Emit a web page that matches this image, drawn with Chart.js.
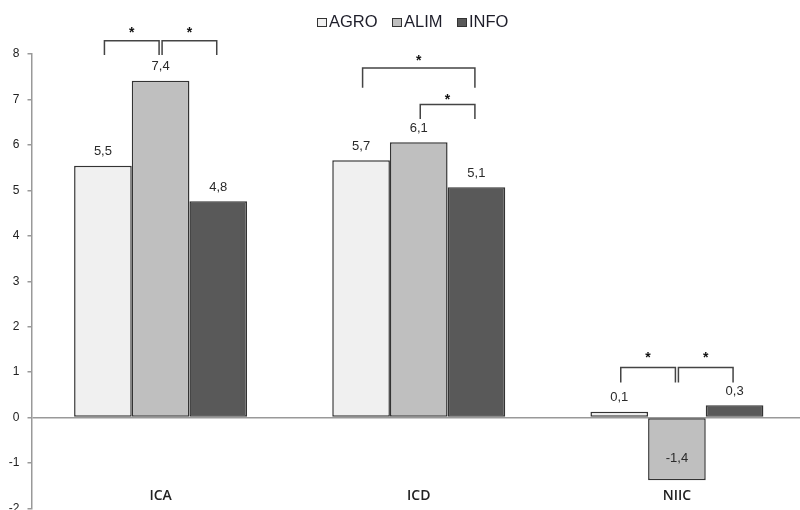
<!DOCTYPE html>
<html><head><meta charset="utf-8">
<script src="https://cdn.jsdelivr.net/npm/chart.js@4/dist/chart.umd.min.js"></script>
<style>html,body{margin:0;padding:0;overflow:hidden;background:#fff;width:800px;height:510px}canvas{display:block}</style>
</head><body><canvas id="c" width="806" height="510"></canvas>
<script>
const categories = ['ICA', 'ICD', 'NIIC'];
const seriesNames = ['AGRO', 'ALIM', 'INFO'];
const agro = [5.54, 5.66, 0.13];
const alim = [7.41, 6.06, -1.38];
const info = [4.76, 5.07, 0.27];
const yMin = -2, yMax = 8, yStep = 1;
// significance brackets: [category, from series, to series, bracket top value, leg end value, star value]
const brackets = [
  [0, 0, 1, 8.29, 7.98, 8.55],
  [0, 1, 2, 8.29, 7.98, 8.55],
  [1, 0, 2, 7.69, 7.26, 7.93],
  [1, 1, 2, 6.89, 6.57, 7.07],
  [2, 0, 1, 1.10, 0.77, 1.40],
  [2, 1, 2, 1.10, 0.77, 1.40]
];

const fills = ['#f0f0f0', '#bfbfbf', '#595959'];
const SANS = '"Liberation Sans", Arial, sans-serif';
const fmt = v => v.toFixed(1).replace('.', ',');

const extras = {
  id: 'extras',
  afterDatasetsDraw(chart) {
    const { ctx, scales: { x, y } } = chart;
    ctx.save();
    // data labels
    ctx.font = '13px ' + SANS;
    ctx.fillStyle = '#2a2a2a';
    ctx.textAlign = 'center';
    ctx.textBaseline = 'middle';
    chart.data.datasets.forEach((ds, i) => {
      chart.getDatasetMeta(i).data.forEach((bar, j) => {
        const v = ds.data[j];
        ctx.fillText(fmt(v), bar.x, v >= 0 ? bar.y - 14 : bar.y - 22);
      });
    });
    // category labels
    ctx.font = '600 14px "Open Sans", sans-serif';
    ctx.fillStyle = '#222';
    categories.forEach((c, i) => ctx.fillText(c, x.getPixelForValue(i), 496));
    // brackets
    ctx.strokeStyle = '#444';
    ctx.lineWidth = 1.5;
    ctx.fillStyle = '#111';
    ctx.font = 'bold 14px ' + SANS;
    ctx.textBaseline = 'alphabetic';
    brackets.forEach(([c, a, b, top, leg, star]) => {
      const xa = chart.getDatasetMeta(a).data[c].x + 1.5;
      const xb = chart.getDatasetMeta(b).data[c].x - 1.5;
      const yt = y.getPixelForValue(top), yl = y.getPixelForValue(leg);
      ctx.beginPath();
      ctx.moveTo(xa, yl); ctx.lineTo(xa, yt); ctx.lineTo(xb, yt); ctx.lineTo(xb, yl);
      ctx.stroke();
      ctx.fillText('*', (xa + xb) / 2, y.getPixelForValue(star) + 0.57 * 14);
    });
    // legend
    const bx = [317, 392, 457];
    ctx.font = '16.5px ' + SANS;
    ctx.textAlign = 'left';
    ctx.textBaseline = 'middle';
    ctx.lineWidth = 1;
    seriesNames.forEach((n, i) => {
      ctx.fillStyle = fills[i];
      ctx.fillRect(bx[i] + 0.5, 18.5, 9, 8);
      ctx.strokeStyle = '#333';
      ctx.strokeRect(bx[i] + 0.5, 18.5, 9, 8);
      ctx.fillStyle = '#1e1e2a';
      ctx.fillText(n, bx[i] + 12, 22);
    });
    ctx.restore();
  }
};

new Chart(document.getElementById('c'), {
  type: 'bar',
  data: {
    labels: categories,
    datasets: [
      { label: seriesNames[0], data: agro, backgroundColor: fills[0] },
      { label: seriesNames[1], data: alim, backgroundColor: fills[1] },
      { label: seriesNames[2], data: info, backgroundColor: fills[2] }
    ]
  },
  options: {
    responsive: false,
    animation: false,
    devicePixelRatio: 1,
    layout: { padding: { top: 54, bottom: 1.5, left: 0, right: 0 } },
    datasets: { bar: { categoryPercentage: 0.67, barPercentage: 1, borderColor: '#333', borderWidth: 1.5, borderSkipped: false } },
    plugins: { legend: { display: false }, tooltip: { enabled: false } },
    scales: {
      x: { display: false, offset: true },
      y: {
        min: yMin, max: yMax,
        ticks: { stepSize: yStep, color: '#222', font: { family: SANS, size: 12 }, padding: 8 },
        grid: {
          drawOnChartArea: true,
          color: c => (c.tick && c.tick.value === 0) ? '#999' : 'rgba(0,0,0,0)',
          tickColor: '#999', tickLength: 4, lineWidth: 1.5
        },
        border: { color: '#999', width: 1.5 },
        afterFit: s => { s.width = 31.5; s.paddingTop = 0; s.paddingBottom = 0; }
      }
    }
  },
  plugins: [extras]
});
</script></body></html>
